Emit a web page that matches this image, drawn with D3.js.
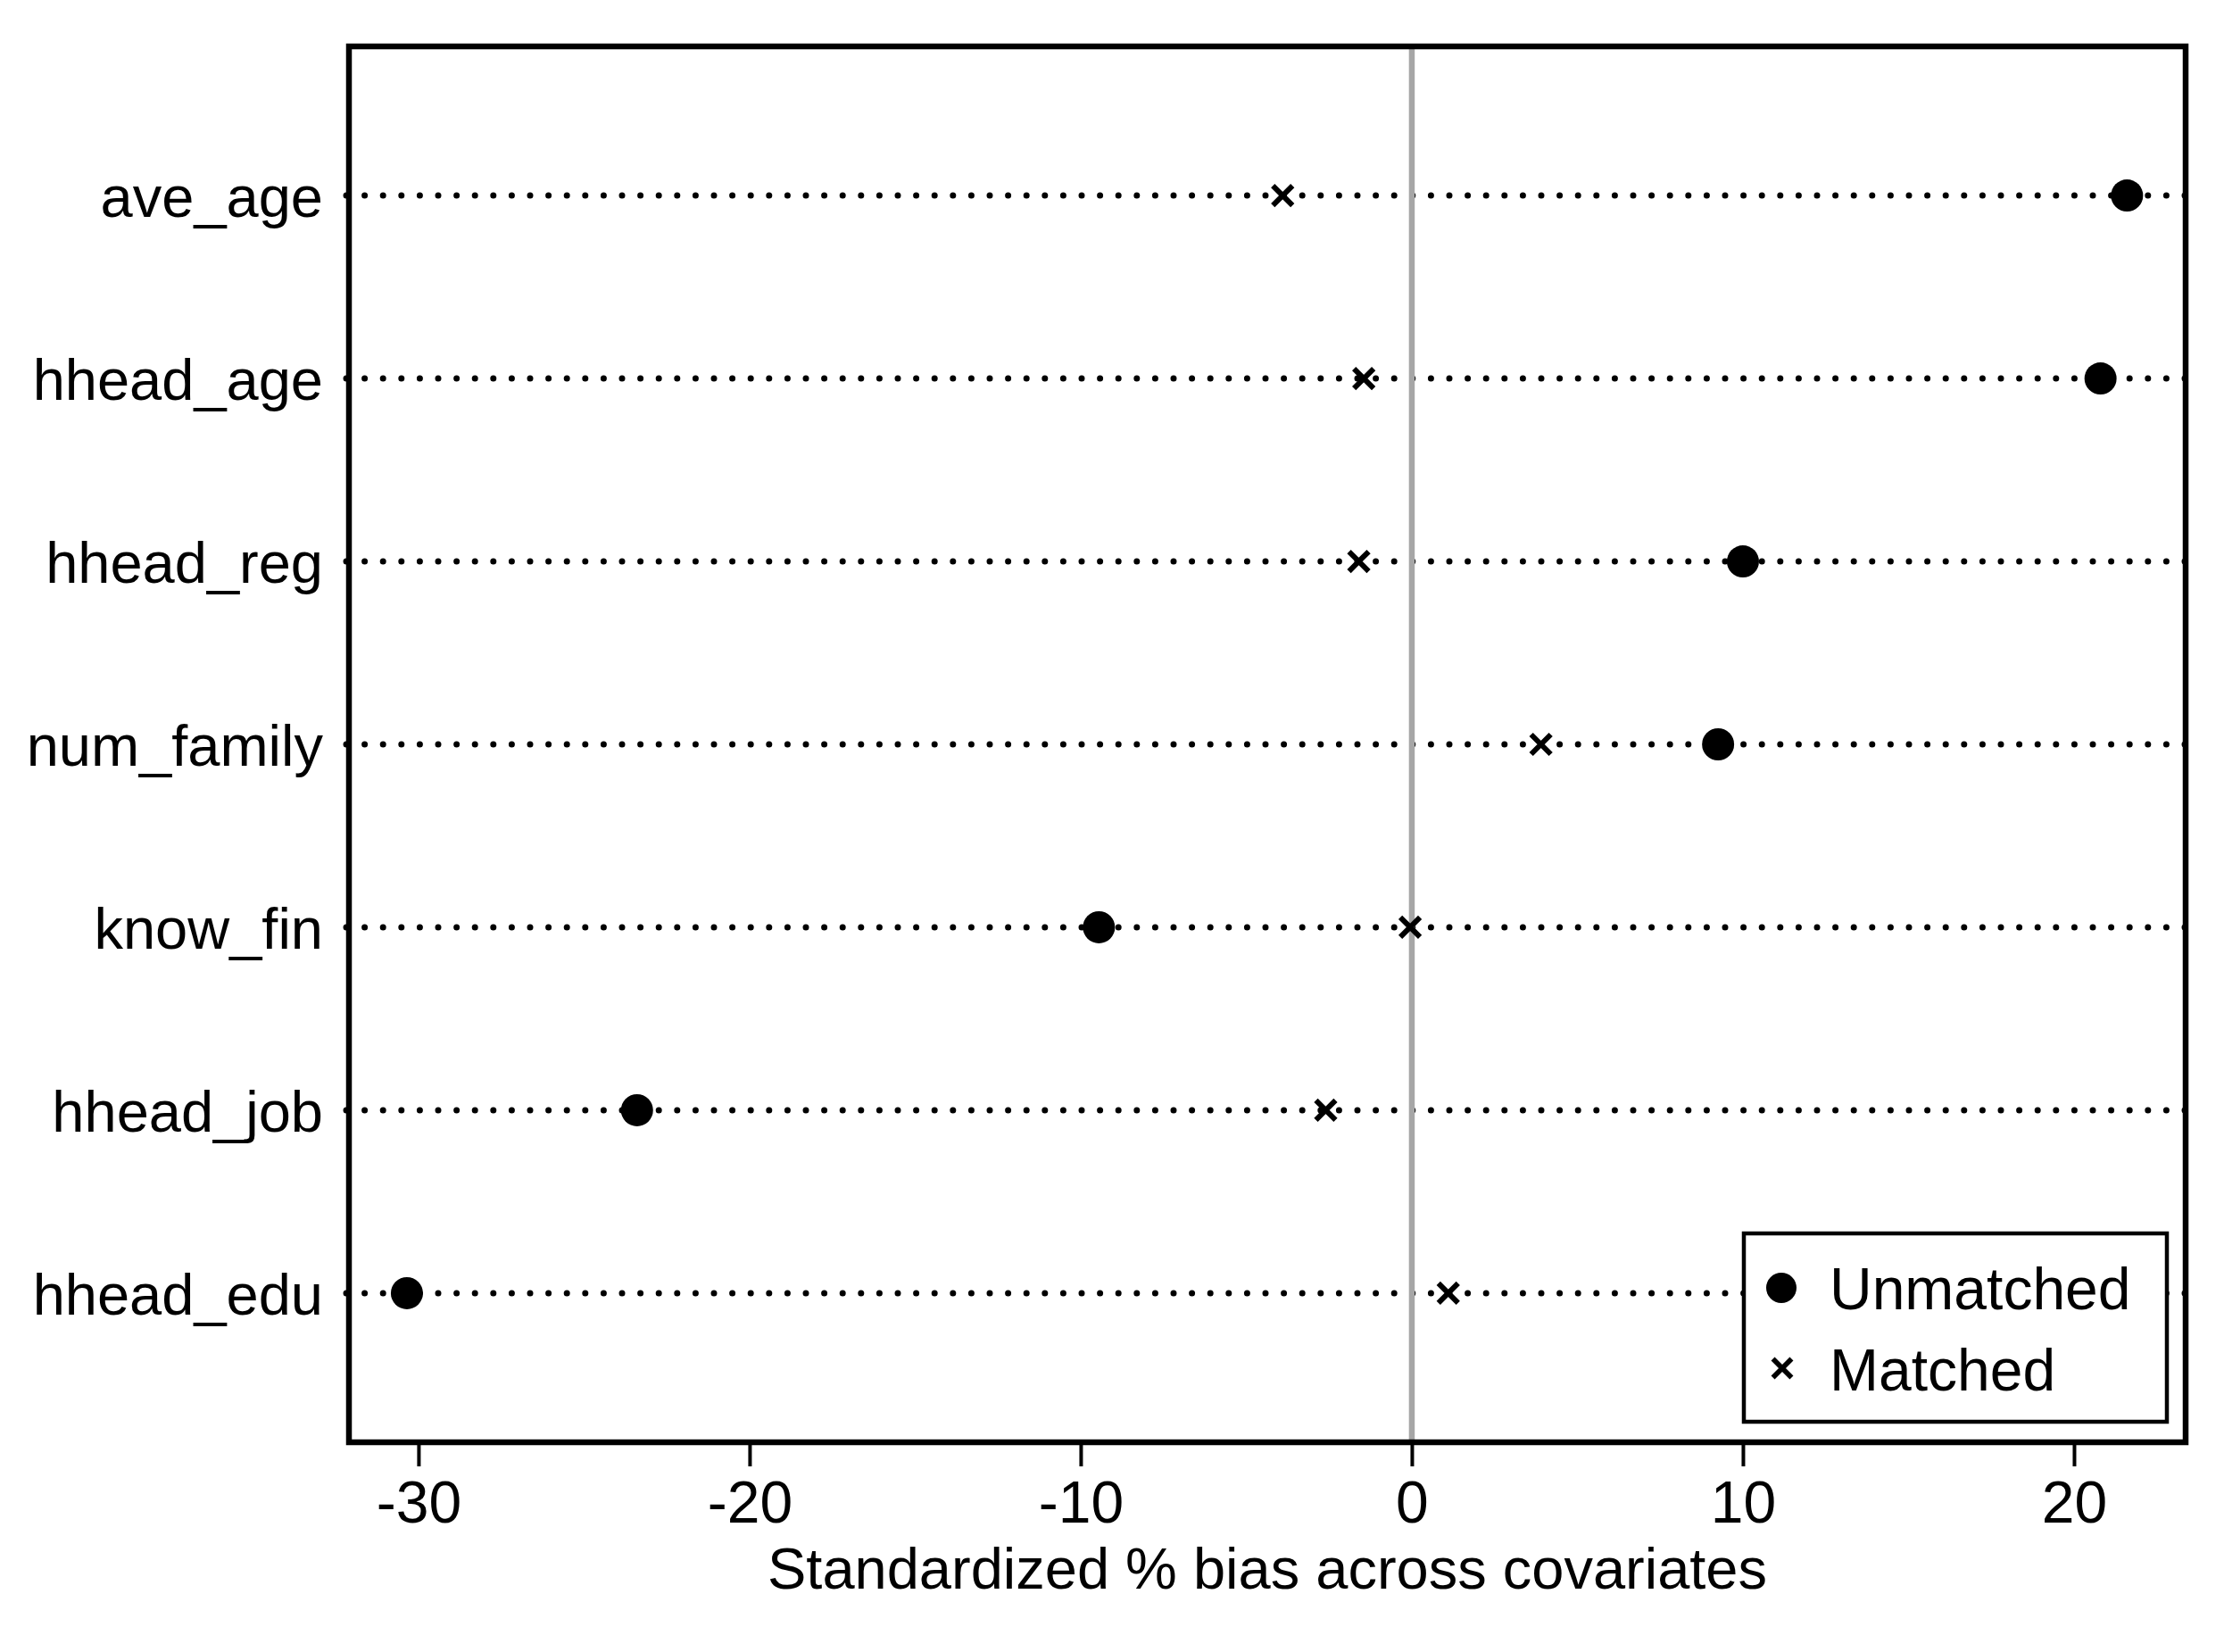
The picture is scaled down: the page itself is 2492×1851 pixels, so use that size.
<!DOCTYPE html>
<html>
<head>
<meta charset="utf-8">
<script src="https://cdn.jsdelivr.net/npm/d3@7"></script>
<style>
  body { margin: 0; background: #fff; }
  text { font-family: "Liberation Sans", Arial, sans-serif; fill: #000; }
</style>
</head>
<body>
<svg id="chart" width="2492" height="1851"></svg>
<script>
// covariates, top to bottom
var covariates = ["ave_age", "hhead_age", "hhead_reg", "num_family", "know_fin", "hhead_job", "hhead_edu"];
// standardized % bias before matching
var unmatched = [21.6, 20.8, 10.0, 9.25, -9.45, -23.4, -30.35];
// standardized % bias after matching
var matched = [-3.9, -1.45, -1.6, 3.9, -0.05, -2.6, 1.1];
var xTicks = [-30, -20, -10, 0, 10, 20];
var seriesNames = ["Unmatched", "Matched"];

var svg = d3.select("#chart");
// plot frame (note: "top" clashes with window.top)
var pLeft = 391, pRight = 2449, pTop = 52, pBottom = 1616;

var x = d3.scaleLinear().domain([-32.1, 23.37]).range([pLeft, pRight]);
var y = d3.scalePoint().domain(covariates).range([pTop, pBottom]).padding(0.815);

var rows = covariates.map(function (c, i) {
  return { name: c, u: unmatched[i], m: matched[i] };
});

// dotted guide lines
svg.append("g")
  .selectAll("line")
  .data(rows)
  .enter()
  .append("line")
  .attr("x1", pLeft - 3)
  .attr("x2", pRight + 4)
  .attr("y1", function (d) { return y(d.name); })
  .attr("y2", function (d) { return y(d.name); })
  .style("stroke", "#000")
  .style("stroke-width", 7)
  .style("stroke-linecap", "round")
  .style("stroke-dasharray", "0,20.6");

// zero reference line
svg.append("line")
  .attr("x1", x(0)).attr("x2", x(0))
  .attr("y1", pTop).attr("y2", pBottom)
  .style("stroke", "#a6a6a6")
  .style("stroke-width", 6.5);

// matched: x markers
var cross = "M-11,-11L11,11M-11,11L11,-11";
svg.append("g")
  .selectAll("path")
  .data(rows)
  .enter()
  .append("path")
  .attr("d", cross)
  .attr("transform", function (d) {
    return "translate(" + x(d.m) + "," + y(d.name) + ")";
  })
  .style("stroke", "#000")
  .style("stroke-width", 6)
  .style("fill", "none");

// unmatched: filled circles
svg.append("g")
  .selectAll("circle")
  .data(rows)
  .enter()
  .append("circle")
  .attr("cx", function (d) { return x(d.u); })
  .attr("cy", function (d) { return y(d.name); })
  .attr("r", 18)
  .style("fill", "#000");

// frame
svg.append("rect")
  .attr("x", pLeft).attr("y", pTop)
  .attr("width", pRight - pLeft).attr("height", pBottom - pTop)
  .style("fill", "none")
  .style("stroke", "#000")
  .style("stroke-width", 6.5);

// x axis
var xAxis = svg.append("g")
  .attr("transform", "translate(0," + (pBottom + 3) + ")")
  .call(d3.axisBottom(x).tickValues(xTicks).tickSize(24).tickPadding(16).tickFormat(d3.format("d")));
xAxis.select(".domain").remove();
xAxis.selectAll(".tick line").style("stroke", "#000").style("stroke-width", 4);
xAxis.selectAll(".tick text")
  .style("font-size", "66px")
  .style("font-family", "'Liberation Sans', Arial, sans-serif")
  .text(function (d) { return d < 0 ? "-" + Math.abs(d) : d; });

// y axis labels
var yAxis = svg.append("g")
  .attr("transform", "translate(" + (pLeft - 3) + ",0)")
  .call(d3.axisLeft(y).tickSize(0).tickPadding(26));
yAxis.select(".domain").remove();
yAxis.selectAll(".tick text")
  .style("font-size", "65px")
  .style("font-family", "'Liberation Sans', Arial, sans-serif")
  .attr("dy", "0.36em");

// axis title
svg.append("text")
  .attr("x", (pLeft + pRight) / 2)
  .attr("y", 1780)
  .attr("text-anchor", "middle")
  .style("font-size", "65px")
  .text("Standardized % bias across covariates");

// legend
var lg = svg.append("g").attr("transform", "translate(1954,1382)");
lg.append("rect")
  .attr("width", 474).attr("height", 211)
  .style("fill", "#fff")
  .style("stroke", "#000")
  .style("stroke-width", 4.5);
lg.append("circle").attr("cx", 42).attr("cy", 61).attr("r", 17).style("fill", "#000");
lg.append("path").attr("d", cross)
  .attr("transform", "translate(43,151) scale(0.95)")
  .style("stroke", "#000").style("stroke-width", 6).style("fill", "none");
lg.selectAll("text.lab")
  .data(seriesNames)
  .enter()
  .append("text")
  .attr("class", "lab")
  .attr("x", 96)
  .attr("y", function (d, i) { return 85 + i * 91; })
  .style("font-size", "66px")
  .text(function (d) { return d; });
</script>
</body>
</html>
